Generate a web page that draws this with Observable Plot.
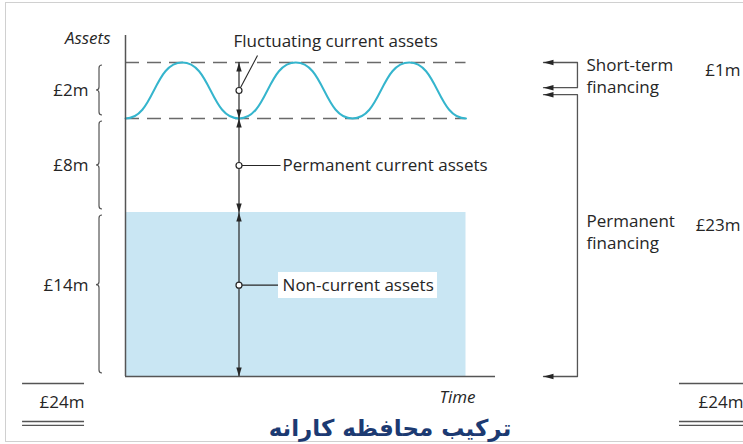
<!DOCTYPE html>
<html><head><meta charset="utf-8">
<script src="https://cdn.jsdelivr.net/npm/d3@7"></script>
<script src="https://cdn.jsdelivr.net/npm/@observablehq/plot@0.6"></script>
<style>
html,body{margin:0;padding:0;background:#fff;}
#wrap{position:relative;width:743px;height:444px;overflow:hidden;}
#frame{position:absolute;left:5px;top:2px;width:800px;height:440px;border:1.5px solid #d0d0d0;box-sizing:border-box;}
#chart{position:absolute;left:0;top:0;}
</style></head><body>
<div id="wrap"><div id="frame"></div><div id="chart"></div></div>
<script>
// ---- data (£m) ----
const segments = ["Non-current assets", "Permanent current assets", "Fluctuating current assets"];
const segmentFrom = [0, 14, 22];
const segmentTo = [14, 22, 24];
const segmentLabels = ["£14m", "£8m", "£2m"];
const segmentMarkerValue = [7.8, 18, 23];
const totalLabel = "£24m";
// fluctuation of current assets over time: troughs and peaks
const fluctTime = [0, 0.5, 1, 1.5, 2, 2.5, 3];
const fluctValue = [22, 24, 22, 24, 22, 24, 22];
// financing
const financing = ["Short-term\nfinancing", "Permanent\nfinancing"];
const financingLabels = ["£1m", "£23m"];
const financingTop = [24, 22.85];
const financingBottom = [23.1, 0];
const axisLabels = {y: "Assets", x: "Time"};
const title = "ترکیب محافظه کارانه";

// ---- layout ----
// the diagram is not drawn to scale: the fluctuating band is stretched
const gauge = d3.scaleLinear().domain([0, 14, 22, 24]).range([0, 164, 258, 314]);
const T_END = 3, T_MARK = 1, T_AXIS_END = 3.26;
const T_BRACE = -0.229, T_LEFT_LABEL = -0.326;
const T_FIN_TIP = 3.683, T_FIN_BAR = 3.982, T_FIN_TEXT = 4.062, T_FIN_VALUE = 5.419;
const T_LEADER_END = 1.366, T_LABEL = 1.384;
const finTextY = [23.55, 12.46], finValueY = [23.71, 12.89];

const ink = "#262626", lineCol = "#555";
const headUp = {draw(c){ c.moveTo(0,0); c.lineTo(2.7,9); c.lineTo(-2.7,9); c.closePath(); }};
const headDown = {draw(c){ c.moveTo(0,0); c.lineTo(2.7,-9); c.lineTo(-2.7,-9); c.closePath(); }};
const headLeft = {draw(c){ c.moveTo(0,0); c.lineTo(10,2.7); c.lineTo(10,-2.7); c.closePath(); }};

const wave = fluctTime.map((t, i) => ({t, v: fluctValue[i]}));
const idx = segments.map((_, i) => i);
const upHeads = segmentTo.map(v => ({x: T_MARK, y: v}));
const downHeads = segmentFrom.map(v => ({x: T_MARK, y: v}));
const leftHeads = [...financingTop, ...financingBottom].map(v => ({x: T_FIN_TIP, y: v}));
const brackets = financing.flatMap((f, i) => [
  {g: i, x: T_FIN_TIP, y: financingTop[i]}, {g: i, x: T_FIN_BAR, y: financingTop[i]},
  {g: i, x: T_FIN_BAR, y: financingBottom[i]}, {g: i, x: T_FIN_TIP, y: financingBottom[i]}]);

function braces(index, scales) {
  const g = d3.create("svg:g").attr("fill", "none").attr("stroke", lineCol).attr("stroke-width", 1.2);
  const X = scales.x, Y = v => scales.y(gauge(v));
  idx.forEach(i => {
    const x = X(T_BRACE);
    const top = Y(segmentTo[i]) + 3, bot = Y(segmentFrom[i]) - 3;
    const mid = Y(segmentMarkerValue[i]);
    const c = 3, p = d3.path();
    p.moveTo(x + c, top); p.quadraticCurveTo(x, top, x, top + c);
    p.lineTo(x, mid - c); p.quadraticCurveTo(x, mid, x - c, mid); p.quadraticCurveTo(x, mid, x, mid + c);
    p.lineTo(x, bot - c); p.quadraticCurveTo(x, bot, x + c, bot);
    g.append("path").attr("d", p.toString());
  });
  return g.node();
}

const totals = [{a: -0.907, b: -0.361}, {a: 4.881, b: 5.445}];
const txt = {fontSize: 17, fill: ink};

const chart = Plot.plot({
  width: 743, height: 444, margin: 0,
  style: {fontFamily: "Open Sans, sans-serif", background: "transparent", overflow: "visible"},
  x: {domain: [0, T_END], range: [125, 465.5], axis: null},
  y: {transform: gauge, domain: [gauge(0), gauge(24)], range: [376, 62], axis: null},
  marks: [
    Plot.rect([0], {x1: 0, x2: T_END, y1: segmentFrom[0], y2: segmentTo[0], fill: "#c9e6f3"}),
    Plot.ruleY([segmentFrom[2], segmentTo[2]], {x1: 0, x2: T_END, stroke: "#6a6a6a", strokeWidth: 1.5, strokeDasharray: "14,8"}),
    Plot.line(wave, {x: "t", y: "v", curve: "bump-x", stroke: "#35b5cd", strokeWidth: 2}),
    Plot.ruleX([0], {y1: 0, y2: 24.96, stroke: lineCol, strokeWidth: 1.5}),
    Plot.ruleY([0], {x1: 0, x2: T_AXIS_END, stroke: lineCol, strokeWidth: 1.5}),
    Plot.ruleX([T_MARK], {y1: 0, y2: segmentTo[2], stroke: ink, strokeWidth: 1.2}),
    Plot.dot(upHeads, {x: "x", y: "y", symbol: headUp, fill: ink, stroke: "none"}),
    Plot.dot(downHeads, {x: "x", y: "y", symbol: headDown, fill: ink, stroke: "none"}),
    // leader lines
    Plot.link([0], {x1: T_MARK, y1: segmentMarkerValue[2], x2: 1.163, y2: 24.25, stroke: ink, strokeWidth: 1.1}),
    Plot.link([0, 1], {x1: T_MARK, y1: i => segmentMarkerValue[i], x2: T_LEADER_END, y2: i => segmentMarkerValue[i], stroke: ink, strokeWidth: 1.1}),
    Plot.rect([0], {x1: 1.348, x2: 2.749, y1: 6.66, y2: 8.88, fill: "white"}),
    Plot.dot(idx, {x: T_MARK, y: i => segmentMarkerValue[i], r: 3, fill: "white", stroke: ink, strokeWidth: 1.2}),
    Plot.text([2], {x: 0.952, y: 24.75, text: i => segments[i], textAnchor: "start", ...txt}),
    Plot.text([0, 1], {x: T_LABEL, y: i => segmentMarkerValue[i], text: i => segments[i], textAnchor: "start", ...txt}),
    // left braces and values
    braces,
    Plot.text(idx, {x: T_LEFT_LABEL, y: i => segmentMarkerValue[i], text: i => segmentLabels[i], textAnchor: "end", ...txt}),
    Plot.text([axisLabels.y], {x: -0.132, y: 24.86, text: d => d, textAnchor: "end", fontStyle: "italic", ...txt}),
    Plot.text([axisLabels.x], {x: 2.925, y: -1.79, text: d => d, fontStyle: "italic", ...txt}),
    // totals
    Plot.ruleY(totals, {y: -0.6, x1: "a", x2: "b", stroke: lineCol, strokeWidth: 1.5}),
    Plot.ruleY(totals, {y: -3.84, x1: "a", x2: "b", stroke: lineCol, strokeWidth: 1.3}),
    Plot.ruleY(totals, {y: -4.18, x1: "a", x2: "b", stroke: lineCol, strokeWidth: 1.3}),
    Plot.text(totals, {x: "b", y: -2.22, text: () => totalLabel, textAnchor: "end", ...txt}),
    // financing
    Plot.line(brackets, {x: "x", y: "y", z: "g", stroke: lineCol, strokeWidth: 1.3}),
    Plot.dot(leftHeads, {x: "x", y: "y", symbol: headLeft, fill: ink, stroke: "none"}),
    Plot.text([0, 1], {x: T_FIN_TEXT, y: i => finTextY[i], text: i => financing[i], textAnchor: "start", lineHeight: 1.3, ...txt}),
    Plot.text([0, 1], {x: T_FIN_VALUE, y: i => finValueY[i], text: i => financingLabels[i], textAnchor: "end", ...txt}),
    // title
    Plot.text([title], {x: 2.33, y: -4.44, text: d => d, fontSize: 23, fontWeight: "bold", fill: "#1c3a72", fontFamily: "DejaVu Sans, sans-serif"})
  ]
});
document.getElementById("chart").appendChild(chart);
</script>
</body></html>
